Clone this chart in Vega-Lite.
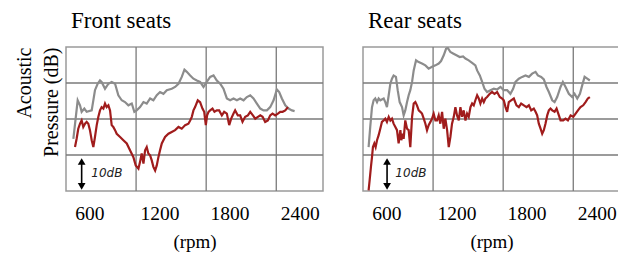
{
  "$schema": "https://vega.github.io/schema/vega-lite/v6.json",
  "padding": {"left": 13, "top": 9, "right": 0, "bottom": 0},
  "background": "white",
  "config": {
    "font": "Liberation Serif",
    "view": {"stroke": "#9a9a9a", "strokeWidth": 1.5},
    "title": {"font": "Liberation Serif", "fontSize": 23, "fontWeight": "normal", "color": "#000", "anchor": "start", "frame": "group", "offset": 13}
  },
  "datasets": {
    "front": [
      {"series": "Series 1", "rpm": 463, "dB": 14.5}, {"series": "Series 1", "rpm": 500, "dB": 25.2}, {"series": "Series 1", "rpm": 520, "dB": 23.8}, {"series": "Series 1", "rpm": 534, "dB": 22.0}, {"series": "Series 1", "rpm": 557, "dB": 22.9}, {"series": "Series 1", "rpm": 577, "dB": 22.0}, {"series": "Series 1", "rpm": 620, "dB": 22.4}, {"series": "Series 1", "rpm": 648, "dB": 28.0}, {"series": "Series 1", "rpm": 671, "dB": 29.8}, {"series": "Series 1", "rpm": 691, "dB": 30.7}, {"series": "Series 1", "rpm": 705, "dB": 30.3}, {"series": "Series 1", "rpm": 734, "dB": 28.4}, {"series": "Series 1", "rpm": 763, "dB": 29.8}, {"series": "Series 1", "rpm": 791, "dB": 30.3}, {"series": "Series 1", "rpm": 820, "dB": 29.8}, {"series": "Series 1", "rpm": 848, "dB": 26.6}, {"series": "Series 1", "rpm": 877, "dB": 25.2}, {"series": "Series 1", "rpm": 905, "dB": 24.7}, {"series": "Series 1", "rpm": 934, "dB": 23.8}, {"series": "Series 1", "rpm": 963, "dB": 24.3}, {"series": "Series 1", "rpm": 985, "dB": 22.0}, {"series": "Series 1", "rpm": 1005, "dB": 22.4}, {"series": "Series 1", "rpm": 1034, "dB": 23.3}, {"series": "Series 1", "rpm": 1063, "dB": 24.7}, {"series": "Series 1", "rpm": 1091, "dB": 24.3}, {"series": "Series 1", "rpm": 1120, "dB": 25.7}, {"series": "Series 1", "rpm": 1148, "dB": 25.2}, {"series": "Series 1", "rpm": 1177, "dB": 26.6}, {"series": "Series 1", "rpm": 1205, "dB": 27.5}, {"series": "Series 1", "rpm": 1234, "dB": 27.0}, {"series": "Series 1", "rpm": 1263, "dB": 28.0}, {"series": "Series 1", "rpm": 1305, "dB": 28.4}, {"series": "Series 1", "rpm": 1334, "dB": 28.9}, {"series": "Series 1", "rpm": 1363, "dB": 29.8}, {"series": "Series 1", "rpm": 1391, "dB": 31.7}, {"series": "Series 1", "rpm": 1414, "dB": 33.7}, {"series": "Series 1", "rpm": 1434, "dB": 33.1}, {"series": "Series 1", "rpm": 1463, "dB": 32.1}, {"series": "Series 1", "rpm": 1491, "dB": 31.2}, {"series": "Series 1", "rpm": 1520, "dB": 30.7}, {"series": "Series 1", "rpm": 1548, "dB": 30.3}, {"series": "Series 1", "rpm": 1577, "dB": 28.9}, {"series": "Series 1", "rpm": 1605, "dB": 30.3}, {"series": "Series 1", "rpm": 1634, "dB": 31.7}, {"series": "Series 1", "rpm": 1663, "dB": 32.1}, {"series": "Series 1", "rpm": 1691, "dB": 30.7}, {"series": "Series 1", "rpm": 1720, "dB": 29.8}, {"series": "Series 1", "rpm": 1748, "dB": 28.4}, {"series": "Series 1", "rpm": 1777, "dB": 25.7}, {"series": "Series 1", "rpm": 1805, "dB": 25.2}, {"series": "Series 1", "rpm": 1834, "dB": 25.7}, {"series": "Series 1", "rpm": 1863, "dB": 25.2}, {"series": "Series 1", "rpm": 1891, "dB": 25.7}, {"series": "Series 1", "rpm": 1920, "dB": 25.2}, {"series": "Series 1", "rpm": 1948, "dB": 26.1}, {"series": "Series 1", "rpm": 1977, "dB": 26.6}, {"series": "Series 1", "rpm": 2005, "dB": 25.7}, {"series": "Series 1", "rpm": 2034, "dB": 24.3}, {"series": "Series 1", "rpm": 2063, "dB": 22.9}, {"series": "Series 1", "rpm": 2091, "dB": 22.4}, {"series": "Series 1", "rpm": 2120, "dB": 22.4}, {"series": "Series 1", "rpm": 2148, "dB": 23.3}, {"series": "Series 1", "rpm": 2177, "dB": 25.2}, {"series": "Series 1", "rpm": 2205, "dB": 28.2}, {"series": "Series 1", "rpm": 2225, "dB": 27.5}, {"series": "Series 1", "rpm": 2248, "dB": 25.7}, {"series": "Series 1", "rpm": 2277, "dB": 23.8}, {"series": "Series 1", "rpm": 2305, "dB": 22.9}, {"series": "Series 1", "rpm": 2334, "dB": 22.4}, {"series": "Series 1", "rpm": 2357, "dB": 22.2},
      {"series": "Series 2", "rpm": 477, "dB": 12.2}, {"series": "Series 2", "rpm": 491, "dB": 14.5}, {"series": "Series 2", "rpm": 505, "dB": 17.3}, {"series": "Series 2", "rpm": 520, "dB": 18.7}, {"series": "Series 2", "rpm": 534, "dB": 19.6}, {"series": "Series 2", "rpm": 548, "dB": 17.8}, {"series": "Series 2", "rpm": 563, "dB": 18.7}, {"series": "Series 2", "rpm": 577, "dB": 19.2}, {"series": "Series 2", "rpm": 591, "dB": 18.7}, {"series": "Series 2", "rpm": 605, "dB": 16.9}, {"series": "Series 2", "rpm": 620, "dB": 14.1}, {"series": "Series 2", "rpm": 634, "dB": 12.2}, {"series": "Series 2", "rpm": 648, "dB": 15.0}, {"series": "Series 2", "rpm": 663, "dB": 18.3}, {"series": "Series 2", "rpm": 677, "dB": 20.6}, {"series": "Series 2", "rpm": 691, "dB": 22.4}, {"series": "Series 2", "rpm": 705, "dB": 23.3}, {"series": "Series 2", "rpm": 720, "dB": 22.9}, {"series": "Series 2", "rpm": 734, "dB": 24.3}, {"series": "Series 2", "rpm": 748, "dB": 23.3}, {"series": "Series 2", "rpm": 763, "dB": 23.8}, {"series": "Series 2", "rpm": 777, "dB": 22.4}, {"series": "Series 2", "rpm": 791, "dB": 18.3}, {"series": "Series 2", "rpm": 805, "dB": 17.8}, {"series": "Series 2", "rpm": 820, "dB": 16.9}, {"series": "Series 2", "rpm": 834, "dB": 15.9}, {"series": "Series 2", "rpm": 863, "dB": 15.0}, {"series": "Series 2", "rpm": 891, "dB": 14.1}, {"series": "Series 2", "rpm": 920, "dB": 13.2}, {"series": "Series 2", "rpm": 948, "dB": 11.3}, {"series": "Series 2", "rpm": 977, "dB": 9.4}, {"series": "Series 2", "rpm": 997, "dB": 7.1}, {"series": "Series 2", "rpm": 1020, "dB": 6.2}, {"series": "Series 2", "rpm": 1034, "dB": 8.1}, {"series": "Series 2", "rpm": 1048, "dB": 10.4}, {"series": "Series 2", "rpm": 1063, "dB": 7.6}, {"series": "Series 2", "rpm": 1077, "dB": 11.3}, {"series": "Series 2", "rpm": 1091, "dB": 12.2}, {"series": "Series 2", "rpm": 1105, "dB": 10.4}, {"series": "Series 2", "rpm": 1120, "dB": 9.9}, {"series": "Series 2", "rpm": 1134, "dB": 8.5}, {"series": "Series 2", "rpm": 1148, "dB": 6.7}, {"series": "Series 2", "rpm": 1163, "dB": 5.7}, {"series": "Series 2", "rpm": 1177, "dB": 7.1}, {"series": "Series 2", "rpm": 1191, "dB": 9.4}, {"series": "Series 2", "rpm": 1205, "dB": 11.3}, {"series": "Series 2", "rpm": 1220, "dB": 13.2}, {"series": "Series 2", "rpm": 1248, "dB": 15.0}, {"series": "Series 2", "rpm": 1277, "dB": 15.9}, {"series": "Series 2", "rpm": 1305, "dB": 16.4}, {"series": "Series 2", "rpm": 1334, "dB": 16.9}, {"series": "Series 2", "rpm": 1363, "dB": 17.8}, {"series": "Series 2", "rpm": 1391, "dB": 17.3}, {"series": "Series 2", "rpm": 1420, "dB": 18.3}, {"series": "Series 2", "rpm": 1448, "dB": 18.7}, {"series": "Series 2", "rpm": 1463, "dB": 19.6}, {"series": "Series 2", "rpm": 1477, "dB": 20.6}, {"series": "Series 2", "rpm": 1491, "dB": 22.4}, {"series": "Series 2", "rpm": 1505, "dB": 23.3}, {"series": "Series 2", "rpm": 1528, "dB": 25.2}, {"series": "Series 2", "rpm": 1548, "dB": 24.7}, {"series": "Series 2", "rpm": 1568, "dB": 22.9}, {"series": "Series 2", "rpm": 1583, "dB": 22.0}, {"series": "Series 2", "rpm": 1597, "dB": 18.3}, {"series": "Series 2", "rpm": 1608, "dB": 21.0}, {"series": "Series 2", "rpm": 1620, "dB": 22.0}, {"series": "Series 2", "rpm": 1634, "dB": 22.4}, {"series": "Series 2", "rpm": 1654, "dB": 22.9}, {"series": "Series 2", "rpm": 1671, "dB": 22.0}, {"series": "Series 2", "rpm": 1691, "dB": 22.4}, {"series": "Series 2", "rpm": 1711, "dB": 22.4}, {"series": "Series 2", "rpm": 1734, "dB": 21.0}, {"series": "Series 2", "rpm": 1754, "dB": 22.0}, {"series": "Series 2", "rpm": 1777, "dB": 21.5}, {"series": "Series 2", "rpm": 1797, "dB": 18.3}, {"series": "Series 2", "rpm": 1814, "dB": 20.1}, {"series": "Series 2", "rpm": 1834, "dB": 21.5}, {"series": "Series 2", "rpm": 1848, "dB": 22.4}, {"series": "Series 2", "rpm": 1871, "dB": 21.0}, {"series": "Series 2", "rpm": 1891, "dB": 21.0}, {"series": "Series 2", "rpm": 1911, "dB": 19.2}, {"series": "Series 2", "rpm": 1934, "dB": 20.6}, {"series": "Series 2", "rpm": 1957, "dB": 21.0}, {"series": "Series 2", "rpm": 1977, "dB": 22.0}, {"series": "Series 2", "rpm": 2000, "dB": 21.0}, {"series": "Series 2", "rpm": 2020, "dB": 20.1}, {"series": "Series 2", "rpm": 2043, "dB": 20.6}, {"series": "Series 2", "rpm": 2063, "dB": 21.0}, {"series": "Series 2", "rpm": 2083, "dB": 20.6}, {"series": "Series 2", "rpm": 2105, "dB": 19.2}, {"series": "Series 2", "rpm": 2128, "dB": 19.6}, {"series": "Series 2", "rpm": 2148, "dB": 21.0}, {"series": "Series 2", "rpm": 2168, "dB": 21.5}, {"series": "Series 2", "rpm": 2191, "dB": 21.0}, {"series": "Series 2", "rpm": 2214, "dB": 21.5}, {"series": "Series 2", "rpm": 2234, "dB": 22.0}, {"series": "Series 2", "rpm": 2254, "dB": 22.0}, {"series": "Series 2", "rpm": 2277, "dB": 22.4}, {"series": "Series 2", "rpm": 2300, "dB": 23.3}
    ],
    "rear": [
      {"series": "Series 1", "rpm": 448, "dB": 12.2}, {"series": "Series 1", "rpm": 462, "dB": 17.8}, {"series": "Series 1", "rpm": 477, "dB": 23.3}, {"series": "Series 1", "rpm": 491, "dB": 25.2}, {"series": "Series 1", "rpm": 505, "dB": 25.7}, {"series": "Series 1", "rpm": 520, "dB": 24.7}, {"series": "Series 1", "rpm": 534, "dB": 25.7}, {"series": "Series 1", "rpm": 548, "dB": 25.2}, {"series": "Series 1", "rpm": 577, "dB": 25.7}, {"series": "Series 1", "rpm": 591, "dB": 24.7}, {"series": "Series 1", "rpm": 605, "dB": 23.3}, {"series": "Series 1", "rpm": 620, "dB": 26.6}, {"series": "Series 1", "rpm": 634, "dB": 29.8}, {"series": "Series 1", "rpm": 648, "dB": 31.2}, {"series": "Series 1", "rpm": 662, "dB": 32.1}, {"series": "Series 1", "rpm": 682, "dB": 31.7}, {"series": "Series 1", "rpm": 697, "dB": 28.0}, {"series": "Series 1", "rpm": 714, "dB": 24.7}, {"series": "Series 1", "rpm": 734, "dB": 23.3}, {"series": "Series 1", "rpm": 748, "dB": 21.0}, {"series": "Series 1", "rpm": 762, "dB": 22.4}, {"series": "Series 1", "rpm": 777, "dB": 24.7}, {"series": "Series 1", "rpm": 791, "dB": 26.6}, {"series": "Series 1", "rpm": 805, "dB": 28.0}, {"series": "Series 1", "rpm": 820, "dB": 30.3}, {"series": "Series 1", "rpm": 834, "dB": 33.5}, {"series": "Series 1", "rpm": 854, "dB": 36.3}, {"series": "Series 1", "rpm": 877, "dB": 35.8}, {"series": "Series 1", "rpm": 905, "dB": 35.4}, {"series": "Series 1", "rpm": 934, "dB": 34.9}, {"series": "Series 1", "rpm": 962, "dB": 34.0}, {"series": "Series 1", "rpm": 991, "dB": 34.5}, {"series": "Series 1", "rpm": 1020, "dB": 34.9}, {"series": "Series 1", "rpm": 1048, "dB": 35.4}, {"series": "Series 1", "rpm": 1068, "dB": 36.1}, {"series": "Series 1", "rpm": 1091, "dB": 37.7}, {"series": "Series 1", "rpm": 1111, "dB": 39.5}, {"series": "Series 1", "rpm": 1125, "dB": 39.8}, {"series": "Series 1", "rpm": 1148, "dB": 38.6}, {"series": "Series 1", "rpm": 1171, "dB": 38.2}, {"series": "Series 1", "rpm": 1200, "dB": 37.7}, {"series": "Series 1", "rpm": 1228, "dB": 37.2}, {"series": "Series 1", "rpm": 1257, "dB": 37.4}, {"series": "Series 1", "rpm": 1277, "dB": 36.8}, {"series": "Series 1", "rpm": 1305, "dB": 36.3}, {"series": "Series 1", "rpm": 1334, "dB": 35.6}, {"series": "Series 1", "rpm": 1362, "dB": 34.9}, {"series": "Series 1", "rpm": 1377, "dB": 33.5}, {"series": "Series 1", "rpm": 1400, "dB": 32.1}, {"series": "Series 1", "rpm": 1420, "dB": 30.3}, {"series": "Series 1", "rpm": 1440, "dB": 28.4}, {"series": "Series 1", "rpm": 1462, "dB": 27.5}, {"series": "Series 1", "rpm": 1491, "dB": 28.0}, {"series": "Series 1", "rpm": 1520, "dB": 28.4}, {"series": "Series 1", "rpm": 1548, "dB": 28.2}, {"series": "Series 1", "rpm": 1577, "dB": 28.9}, {"series": "Series 1", "rpm": 1605, "dB": 28.0}, {"series": "Series 1", "rpm": 1634, "dB": 28.0}, {"series": "Series 1", "rpm": 1662, "dB": 27.0}, {"series": "Series 1", "rpm": 1685, "dB": 28.4}, {"series": "Series 1", "rpm": 1705, "dB": 30.3}, {"series": "Series 1", "rpm": 1734, "dB": 31.2}, {"series": "Series 1", "rpm": 1762, "dB": 31.7}, {"series": "Series 1", "rpm": 1791, "dB": 32.1}, {"series": "Series 1", "rpm": 1820, "dB": 31.7}, {"series": "Series 1", "rpm": 1848, "dB": 32.6}, {"series": "Series 1", "rpm": 1877, "dB": 33.1}, {"series": "Series 1", "rpm": 1897, "dB": 32.1}, {"series": "Series 1", "rpm": 1925, "dB": 31.7}, {"series": "Series 1", "rpm": 1948, "dB": 31.0}, {"series": "Series 1", "rpm": 1971, "dB": 28.9}, {"series": "Series 1", "rpm": 1991, "dB": 27.5}, {"series": "Series 1", "rpm": 2020, "dB": 25.2}, {"series": "Series 1", "rpm": 2040, "dB": 24.7}, {"series": "Series 1", "rpm": 2062, "dB": 26.1}, {"series": "Series 1", "rpm": 2091, "dB": 28.9}, {"series": "Series 1", "rpm": 2111, "dB": 30.3}, {"series": "Series 1", "rpm": 2134, "dB": 28.9}, {"series": "Series 1", "rpm": 2162, "dB": 27.0}, {"series": "Series 1", "rpm": 2191, "dB": 26.1}, {"series": "Series 1", "rpm": 2211, "dB": 27.0}, {"series": "Series 1", "rpm": 2234, "dB": 25.7}, {"series": "Series 1", "rpm": 2257, "dB": 27.0}, {"series": "Series 1", "rpm": 2277, "dB": 29.4}, {"series": "Series 1", "rpm": 2297, "dB": 31.7}, {"series": "Series 1", "rpm": 2320, "dB": 31.2}, {"series": "Series 1", "rpm": 2342, "dB": 30.7},
      {"series": "Series 2", "rpm": 448, "dB": 0.2}, {"series": "Series 2", "rpm": 457, "dB": 3.0}, {"series": "Series 2", "rpm": 468, "dB": 6.7}, {"series": "Series 2", "rpm": 477, "dB": 9.4}, {"series": "Series 2", "rpm": 485, "dB": 12.2}, {"series": "Series 2", "rpm": 497, "dB": 13.2}, {"series": "Series 2", "rpm": 508, "dB": 12.2}, {"series": "Series 2", "rpm": 520, "dB": 14.1}, {"series": "Series 2", "rpm": 534, "dB": 15.5}, {"series": "Series 2", "rpm": 548, "dB": 17.3}, {"series": "Series 2", "rpm": 562, "dB": 19.2}, {"series": "Series 2", "rpm": 577, "dB": 19.6}, {"series": "Series 2", "rpm": 591, "dB": 20.1}, {"series": "Series 2", "rpm": 605, "dB": 19.2}, {"series": "Series 2", "rpm": 620, "dB": 20.6}, {"series": "Series 2", "rpm": 634, "dB": 19.6}, {"series": "Series 2", "rpm": 648, "dB": 20.1}, {"series": "Series 2", "rpm": 662, "dB": 18.7}, {"series": "Series 2", "rpm": 677, "dB": 17.8}, {"series": "Series 2", "rpm": 691, "dB": 16.9}, {"series": "Series 2", "rpm": 705, "dB": 13.2}, {"series": "Series 2", "rpm": 720, "dB": 16.9}, {"series": "Series 2", "rpm": 728, "dB": 14.1}, {"series": "Series 2", "rpm": 740, "dB": 15.9}, {"series": "Series 2", "rpm": 748, "dB": 14.5}, {"series": "Series 2", "rpm": 762, "dB": 19.6}, {"series": "Series 2", "rpm": 777, "dB": 17.3}, {"series": "Series 2", "rpm": 791, "dB": 16.9}, {"series": "Series 2", "rpm": 805, "dB": 12.2}, {"series": "Series 2", "rpm": 820, "dB": 20.6}, {"series": "Series 2", "rpm": 834, "dB": 24.3}, {"series": "Series 2", "rpm": 848, "dB": 24.7}, {"series": "Series 2", "rpm": 862, "dB": 23.8}, {"series": "Series 2", "rpm": 877, "dB": 22.4}, {"series": "Series 2", "rpm": 891, "dB": 22.0}, {"series": "Series 2", "rpm": 905, "dB": 21.5}, {"series": "Series 2", "rpm": 920, "dB": 20.1}, {"series": "Series 2", "rpm": 934, "dB": 18.7}, {"series": "Series 2", "rpm": 948, "dB": 16.9}, {"series": "Series 2", "rpm": 962, "dB": 18.3}, {"series": "Series 2", "rpm": 977, "dB": 19.2}, {"series": "Series 2", "rpm": 991, "dB": 20.1}, {"series": "Series 2", "rpm": 1005, "dB": 21.5}, {"series": "Series 2", "rpm": 1020, "dB": 19.6}, {"series": "Series 2", "rpm": 1034, "dB": 19.6}, {"series": "Series 2", "rpm": 1048, "dB": 21.0}, {"series": "Series 2", "rpm": 1062, "dB": 18.7}, {"series": "Series 2", "rpm": 1077, "dB": 22.0}, {"series": "Series 2", "rpm": 1091, "dB": 17.3}, {"series": "Series 2", "rpm": 1105, "dB": 20.1}, {"series": "Series 2", "rpm": 1120, "dB": 16.9}, {"series": "Series 2", "rpm": 1134, "dB": 12.2}, {"series": "Series 2", "rpm": 1148, "dB": 15.0}, {"series": "Series 2", "rpm": 1162, "dB": 18.7}, {"series": "Series 2", "rpm": 1177, "dB": 20.6}, {"series": "Series 2", "rpm": 1191, "dB": 23.3}, {"series": "Series 2", "rpm": 1205, "dB": 21.0}, {"series": "Series 2", "rpm": 1220, "dB": 19.6}, {"series": "Series 2", "rpm": 1234, "dB": 23.3}, {"series": "Series 2", "rpm": 1248, "dB": 20.6}, {"series": "Series 2", "rpm": 1262, "dB": 22.4}, {"series": "Series 2", "rpm": 1277, "dB": 19.6}, {"series": "Series 2", "rpm": 1291, "dB": 21.5}, {"series": "Series 2", "rpm": 1305, "dB": 20.6}, {"series": "Series 2", "rpm": 1320, "dB": 23.3}, {"series": "Series 2", "rpm": 1334, "dB": 24.3}, {"series": "Series 2", "rpm": 1348, "dB": 23.8}, {"series": "Series 2", "rpm": 1362, "dB": 25.2}, {"series": "Series 2", "rpm": 1377, "dB": 26.6}, {"series": "Series 2", "rpm": 1391, "dB": 25.7}, {"series": "Series 2", "rpm": 1405, "dB": 24.3}, {"series": "Series 2", "rpm": 1420, "dB": 25.7}, {"series": "Series 2", "rpm": 1434, "dB": 24.7}, {"series": "Series 2", "rpm": 1448, "dB": 25.7}, {"series": "Series 2", "rpm": 1462, "dB": 26.1}, {"series": "Series 2", "rpm": 1485, "dB": 27.0}, {"series": "Series 2", "rpm": 1505, "dB": 27.5}, {"series": "Series 2", "rpm": 1525, "dB": 27.0}, {"series": "Series 2", "rpm": 1548, "dB": 27.5}, {"series": "Series 2", "rpm": 1571, "dB": 26.1}, {"series": "Series 2", "rpm": 1591, "dB": 25.7}, {"series": "Series 2", "rpm": 1605, "dB": 25.2}, {"series": "Series 2", "rpm": 1620, "dB": 23.3}, {"series": "Series 2", "rpm": 1634, "dB": 22.0}, {"series": "Series 2", "rpm": 1648, "dB": 24.7}, {"series": "Series 2", "rpm": 1668, "dB": 25.2}, {"series": "Series 2", "rpm": 1691, "dB": 25.7}, {"series": "Series 2", "rpm": 1714, "dB": 23.8}, {"series": "Series 2", "rpm": 1734, "dB": 23.3}, {"series": "Series 2", "rpm": 1754, "dB": 24.3}, {"series": "Series 2", "rpm": 1777, "dB": 23.8}, {"series": "Series 2", "rpm": 1800, "dB": 23.3}, {"series": "Series 2", "rpm": 1820, "dB": 23.8}, {"series": "Series 2", "rpm": 1840, "dB": 22.4}, {"series": "Series 2", "rpm": 1862, "dB": 22.9}, {"series": "Series 2", "rpm": 1877, "dB": 22.0}, {"series": "Series 2", "rpm": 1891, "dB": 21.0}, {"series": "Series 2", "rpm": 1905, "dB": 18.7}, {"series": "Series 2", "rpm": 1920, "dB": 17.3}, {"series": "Series 2", "rpm": 1934, "dB": 15.9}, {"series": "Series 2", "rpm": 1948, "dB": 16.9}, {"series": "Series 2", "rpm": 1962, "dB": 18.7}, {"series": "Series 2", "rpm": 1977, "dB": 21.0}, {"series": "Series 2", "rpm": 1991, "dB": 22.4}, {"series": "Series 2", "rpm": 2005, "dB": 22.9}, {"series": "Series 2", "rpm": 2020, "dB": 22.4}, {"series": "Series 2", "rpm": 2040, "dB": 22.0}, {"series": "Series 2", "rpm": 2057, "dB": 22.9}, {"series": "Series 2", "rpm": 2077, "dB": 21.0}, {"series": "Series 2", "rpm": 2091, "dB": 19.6}, {"series": "Series 2", "rpm": 2114, "dB": 19.6}, {"series": "Series 2", "rpm": 2134, "dB": 20.1}, {"series": "Series 2", "rpm": 2154, "dB": 19.6}, {"series": "Series 2", "rpm": 2177, "dB": 21.0}, {"series": "Series 2", "rpm": 2200, "dB": 20.6}, {"series": "Series 2", "rpm": 2220, "dB": 21.5}, {"series": "Series 2", "rpm": 2240, "dB": 22.4}, {"series": "Series 2", "rpm": 2262, "dB": 23.3}, {"series": "Series 2", "rpm": 2285, "dB": 23.8}, {"series": "Series 2", "rpm": 2305, "dB": 24.7}, {"series": "Series 2", "rpm": 2325, "dB": 25.7}, {"series": "Series 2", "rpm": 2342, "dB": 26.1}
    ],
    "gridx": [{"rpm": 1000}, {"rpm": 1600}, {"rpm": 2200}],
    "gridy": [{"dB": 10}, {"dB": 20}, {"dB": 30}],
    "noteFront": [{"rpm": 534, "lo": 1.3, "hi": 8.2, "trpm": 617, "tdB": 4.9, "label": "10dB"}],
    "noteRear": [{"rpm": 606, "lo": 1.3, "hi": 8.2, "trpm": 677, "tdB": 4.9, "label": "10dB"}]
  },
  "spacing": 36,
  "hconcat": [
    {
      "width": 257, "height": 144,
      "title": {"text": "Front seats", "dx": 5},
      "resolve": {"axis": {"x": "independent", "y": "independent"}},
      "layer": [
        {"data": {"name": "gridx"}, "mark": {"type": "rule", "color": "#7a7a7a", "strokeWidth": 1.3},
         "encoding": {"x": {"field": "rpm", "type": "quantitative", "scale": {"domain": [400, 2600], "nice": false}, "axis": null}}},
        {"data": {"name": "gridy"}, "mark": {"type": "rule", "color": "#7a7a7a", "strokeWidth": 1.3},
         "encoding": {"y": {"field": "dB", "type": "quantitative", "scale": {"domain": [0, 40], "nice": false}, "axis": null}}},
        {"data": {"name": "front"}, "mark": {"type": "line", "strokeWidth": 2.2, "clip": true},
         "encoding": {
           "x": {"field": "rpm", "type": "quantitative", "scale": {"domain": [400, 2600], "nice": false},
                 "axis": {"orient": "bottom", "values": [600, 1200, 1800, 2400], "format": "d", "grid": false, "ticks": false, "domain": false, "labelFont": "Liberation Serif", "labelFontSize": 19.5, "labelColor": "#000", "labelPadding": 13, "labelFlush": false, "title": "(rpm)", "titleFont": "Liberation Serif", "titleFontSize": 19, "titleFontWeight": "normal", "titleColor": "#000", "titlePadding": 10}},
           "y": {"field": "dB", "type": "quantitative", "scale": {"domain": [0, 40], "nice": false},
                 "axis": {"orient": "left", "labels": false, "ticks": false, "domain": false, "grid": false, "title": ["Acoustic", "Pressure (dB)"], "titleFont": "Liberation Serif", "titleFontSize": 20, "titleFontWeight": "normal", "titleColor": "#000", "titleAnchor": "end", "titleLineHeight": 27, "titlePadding": 5}},
           "color": {"field": "series", "type": "nominal", "scale": {"domain": ["Series 1", "Series 2"], "range": ["#8c8c8c", "#a01c1c"]}, "legend": null}
         }},
        {"data": {"name": "noteFront"}, "mark": {"type": "rule", "color": "#000", "strokeWidth": 1.6},
         "encoding": {"x": {"field": "rpm", "type": "quantitative", "axis": null}, "y": {"field": "lo", "type": "quantitative", "axis": null}, "y2": {"field": "hi"}}},
        {"data": {"name": "noteFront"}, "mark": {"type": "point", "shape": "triangle-up", "filled": true, "color": "#000", "size": 60, "opacity": 1},
         "encoding": {"x": {"field": "rpm", "type": "quantitative", "axis": null}, "y": {"field": "hi", "type": "quantitative", "axis": null}}},
        {"data": {"name": "noteFront"}, "mark": {"type": "point", "shape": "triangle-down", "filled": true, "color": "#000", "size": 60, "opacity": 1},
         "encoding": {"x": {"field": "rpm", "type": "quantitative", "axis": null}, "y": {"field": "lo", "type": "quantitative", "axis": null}}},
        {"data": {"name": "noteFront"}, "mark": {"type": "text", "font": "DejaVu Sans", "fontStyle": "italic", "fontSize": 12, "align": "left", "baseline": "middle", "color": "#222"},
         "encoding": {"x": {"field": "trpm", "type": "quantitative", "axis": null}, "y": {"field": "tdB", "type": "quantitative", "axis": null}, "text": {"field": "label"}}}
      ]
    },
    {
      "width": 257, "height": 144,
      "title": {"text": "Rear seats", "dx": 5},
      "resolve": {"axis": {"x": "independent", "y": "independent"}},
      "layer": [
        {"data": {"name": "gridx"}, "mark": {"type": "rule", "color": "#7a7a7a", "strokeWidth": 1.3},
         "encoding": {"x": {"field": "rpm", "type": "quantitative", "scale": {"domain": [400, 2600], "nice": false}, "axis": null}}},
        {"data": {"name": "gridy"}, "mark": {"type": "rule", "color": "#7a7a7a", "strokeWidth": 1.3},
         "encoding": {"y": {"field": "dB", "type": "quantitative", "scale": {"domain": [0, 40], "nice": false}, "axis": null}}},
        {"data": {"name": "rear"}, "mark": {"type": "line", "strokeWidth": 2.2, "clip": true},
         "encoding": {
           "x": {"field": "rpm", "type": "quantitative", "scale": {"domain": [400, 2600], "nice": false},
                 "axis": {"orient": "bottom", "values": [600, 1200, 1800, 2400], "format": "d", "grid": false, "ticks": false, "domain": false, "labelFont": "Liberation Serif", "labelFontSize": 19.5, "labelColor": "#000", "labelPadding": 13, "labelFlush": false, "title": "(rpm)", "titleFont": "Liberation Serif", "titleFontSize": 19, "titleFontWeight": "normal", "titleColor": "#000", "titlePadding": 10}},
           "y": {"field": "dB", "type": "quantitative", "scale": {"domain": [0, 40], "nice": false}, "axis": null},
           "color": {"field": "series", "type": "nominal", "scale": {"domain": ["Series 1", "Series 2"], "range": ["#8c8c8c", "#a01c1c"]}, "legend": null}
         }},
        {"data": {"name": "noteRear"}, "mark": {"type": "rule", "color": "#000", "strokeWidth": 1.6},
         "encoding": {"x": {"field": "rpm", "type": "quantitative", "axis": null}, "y": {"field": "lo", "type": "quantitative", "axis": null}, "y2": {"field": "hi"}}},
        {"data": {"name": "noteRear"}, "mark": {"type": "point", "shape": "triangle-up", "filled": true, "color": "#000", "size": 60, "opacity": 1},
         "encoding": {"x": {"field": "rpm", "type": "quantitative", "axis": null}, "y": {"field": "hi", "type": "quantitative", "axis": null}}},
        {"data": {"name": "noteRear"}, "mark": {"type": "point", "shape": "triangle-down", "filled": true, "color": "#000", "size": 60, "opacity": 1},
         "encoding": {"x": {"field": "rpm", "type": "quantitative", "axis": null}, "y": {"field": "lo", "type": "quantitative", "axis": null}}},
        {"data": {"name": "noteRear"}, "mark": {"type": "text", "font": "DejaVu Sans", "fontStyle": "italic", "fontSize": 12, "align": "left", "baseline": "middle", "color": "#222"},
         "encoding": {"x": {"field": "trpm", "type": "quantitative", "axis": null}, "y": {"field": "tdB", "type": "quantitative", "axis": null}, "text": {"field": "label"}}}
      ]
    }
  ]
}
